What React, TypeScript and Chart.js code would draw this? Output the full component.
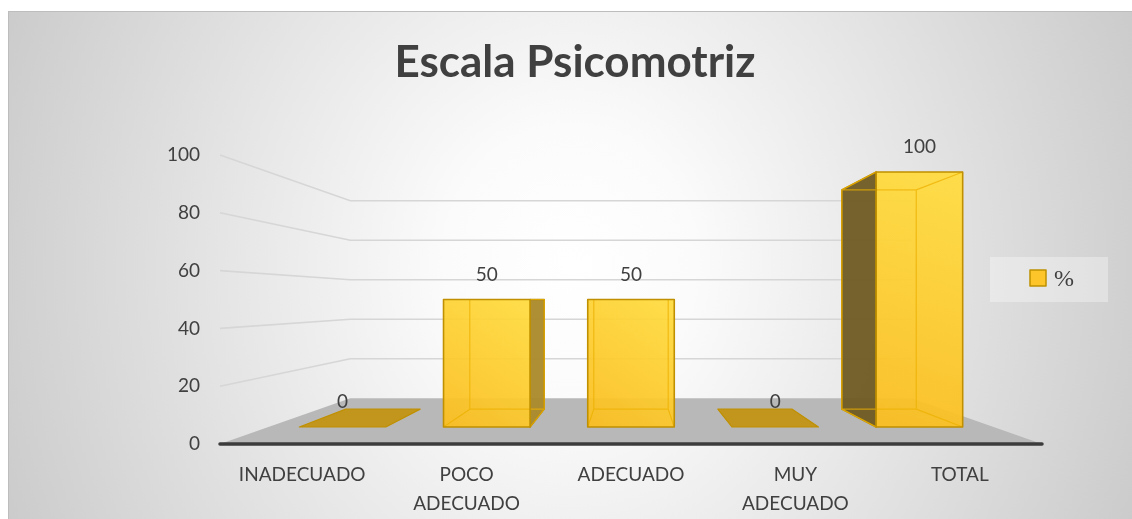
import React, { useEffect, useRef } from 'react';
import { Chart, registerables } from 'chart.js';

Chart.register(...registerables);

// ---- data ----
const TITLE = 'Escala Psicomotriz';
const SERIES_LABEL = '%';
const CATEGORIES: (string | string[])[] = [
  'INADECUADO',
  ['POCO', 'ADECUADO'],
  'ADECUADO',
  ['MUY', 'ADECUADO'],
  'TOTAL',
];
const VALUES = [0, 50, 50, 0, 100];
const Y_MIN = 0;
const Y_MAX = 100;
const Y_STEP = 20;

// ---- perspective style constants ----
const WALL_DEPTH = 0.683; // back wall relative to floor front (about vanishing point)
const BAR_DEPTH = 0.86; // bar back face relative to its front face
const FONT = 'Lato, "Noto Sans", sans-serif';
const TEXT_COLOR = '#404040';

type Pt = [number, number];

const perspectivePlugin = {
  id: 'perspective3d',
  beforeDraw(chart: any) {
    const { ctx, width, height } = chart;
    ctx.save();
    ctx.strokeStyle = '#bdbdbd';
    ctx.lineWidth = 1;
    ctx.beginPath();
    ctx.moveTo(0, 0.5);
    ctx.lineTo(width, 0.5);
    ctx.moveTo(0.5, 0);
    ctx.lineTo(0.5, height);
    ctx.stroke();
    ctx.restore();
  },
  beforeDatasetsDraw(chart: any) {
    const { ctx, chartArea: a, scales } = chart;
    const y = scales.y;
    const vx = (a.left + a.right) / 2;
    const vy = (a.top + a.bottom) / 2;
    const P = (px: number, py: number, k: number): Pt => [vx + (px - vx) * k, vy + (py - vy) * k];
    ctx.save();
    // floor
    const bl = P(a.left, a.bottom, WALL_DEPTH);
    const br = P(a.right, a.bottom, WALL_DEPTH);
    ctx.beginPath();
    ctx.moveTo(a.left, a.bottom);
    ctx.lineTo(a.right, a.bottom);
    ctx.lineTo(br[0], br[1]);
    ctx.lineTo(bl[0], bl[1]);
    ctx.closePath();
    ctx.fillStyle = '#b8b8b8';
    ctx.fill();
    // gridlines (side + back wall)
    ctx.strokeStyle = '#d6d6d6';
    ctx.lineWidth = 1.6;
    for (const t of y.ticks) {
      if (t.value === Y_MIN) continue;
      const py = y.getPixelForValue(t.value);
      const w = P(a.left, py, WALL_DEPTH);
      ctx.beginPath();
      ctx.moveTo(a.left, py);
      ctx.lineTo(w[0], w[1]);
      ctx.lineTo(br[0], w[1]);
      ctx.stroke();
    }
    // front floor edge
    ctx.strokeStyle = '#3c3c3c';
    ctx.lineWidth = 3.5;
    ctx.lineCap = 'round';
    ctx.beginPath();
    ctx.moveTo(a.left, a.bottom);
    ctx.lineTo(a.right, a.bottom);
    ctx.stroke();
    ctx.restore();
  },
  afterDatasetsDraw(chart: any) {
    const { ctx, chartArea: a } = chart;
    const vx = (a.left + a.right) / 2;
    const vy = (a.top + a.bottom) / 2;
    const P = (px: number, py: number, k: number): Pt => [vx + (px - vx) * k, vy + (py - vy) * k];
    const meta = chart.getDatasetMeta(0);
    const ds = chart.data.datasets[0];
    const poly = (pts: Pt[]) => {
      ctx.beginPath();
      ctx.moveTo(pts[0][0], pts[0][1]);
      for (let i = 1; i < pts.length; i++) ctx.lineTo(pts[i][0], pts[i][1]);
      ctx.closePath();
    };
    ctx.save();
    meta.data.forEach((el: any, i: number) => {
      const { x, y: top, base, width } = el.getProps(['x', 'y', 'base', 'width'], true);
      const L = x - width / 2;
      const R = x + width / 2;
      const T = Math.min(top, base);
      const B = Math.max(top, base);
      const bLT = P(L, T, BAR_DEPTH);
      const bRT = P(R, T, BAR_DEPTH);
      const bLB = P(L, B, BAR_DEPTH);
      const bRB = P(R, B, BAR_DEPTH);
      ctx.lineJoin = 'round';
      if (B - T < 0.5) {
        // flat bar (zero value): top face only
        poly([[L, B], [R, B], bRB, bLB]);
        ctx.fillStyle = '#c2951c';
        ctx.fill();
        ctx.strokeStyle = '#c09000';
        ctx.lineWidth = 1.2;
        ctx.stroke();
      } else {
        // side faces
        if (L > vx + 1) {
          poly([[L, T], bLT, bLB, [L, B]]);
          ctx.fillStyle = 'rgba(112,92,36,0.96)';
          ctx.fill();
          ctx.strokeStyle = '#b08400';
          ctx.lineWidth = 1.5;
          ctx.stroke();
        } else if (R < vx - 1) {
          poly([[R, T], bRT, bRB, [R, B]]);
          ctx.fillStyle = 'rgba(172,138,44,0.96)';
          ctx.fill();
          ctx.strokeStyle = '#b08400';
          ctx.lineWidth = 1.5;
          ctx.stroke();
        }
        // top face if below eye level
        if (T > vy + 1) {
          poly([[L, T], [R, T], bRT, bLT]);
          ctx.fillStyle = '#f2bd1e';
          ctx.fill();
        }
        // front face
        const g = ctx.createLinearGradient(R, T, L, B);
        g.addColorStop(0, 'rgba(255,220,64,0.94)');
        g.addColorStop(1, 'rgba(250,190,32,0.94)');
        ctx.fillStyle = g;
        ctx.fillRect(L, T, R - L, B - T);
        // inner (back) edges seen through
        ctx.strokeStyle = 'rgba(236,176,0,0.75)';
        ctx.lineWidth = 1.2;
        ctx.beginPath();
        ctx.moveTo(bLT[0], bLT[1]);
        ctx.lineTo(bRT[0], bRT[1]);
        ctx.lineTo(bRB[0], bRB[1]);
        ctx.lineTo(bLB[0], bLB[1]);
        ctx.closePath();
        ctx.moveTo(L, T); ctx.lineTo(bLT[0], bLT[1]);
        ctx.moveTo(R, T); ctx.lineTo(bRT[0], bRT[1]);
        ctx.moveTo(L, B); ctx.lineTo(bLB[0], bLB[1]);
        ctx.moveTo(R, B); ctx.lineTo(bRB[0], bRB[1]);
        ctx.stroke();
        ctx.strokeStyle = '#c09000';
        ctx.lineWidth = 1.6;
        ctx.strokeRect(L, T, R - L, B - T);
      }
      // data label
      ctx.fillStyle = TEXT_COLOR;
      ctx.font = `19px ${FONT}`;
      ctx.textAlign = 'center';
      ctx.textBaseline = 'middle';
      ctx.fillText(String(VALUES[i]), x, T - 25);
    });

    // legend
    const lx = chart.width - 142;
    const ly = 246;
    ctx.fillStyle = 'rgba(255,255,255,0.33)';
    ctx.fillRect(lx, ly, 118, 45);
    ctx.fillStyle = '#fdc52a';
    ctx.fillRect(lx + 40, ly + 13, 16, 16);
    ctx.strokeStyle = '#bf9000';
    ctx.lineWidth = 1.5;
    ctx.strokeRect(lx + 40, ly + 13, 16, 16);
    ctx.fillStyle = TEXT_COLOR;
    ctx.font = '24px "Liberation Serif", "DejaVu Serif", serif';
    ctx.textAlign = 'left';
    ctx.textBaseline = 'middle';
    ctx.fillText(ds.label, lx + 64, ly + 23);
    ctx.restore();
  },
};

export default function App() {
  const ref = useRef<HTMLCanvasElement | null>(null);
  useEffect(() => {
    if (!ref.current) return;
    const chart = new Chart(ref.current, {
      type: 'bar',
      data: {
        labels: CATEGORIES as any,
        datasets: [
          {
            label: SERIES_LABEL,
            data: VALUES.map((v, i) => ({ x: i, y: v })) as any,
            xAxisID: 'xBar',
            yAxisID: 'yBar',
            backgroundColor: 'rgba(0,0,0,0)',
            borderWidth: 0,
            barPercentage: 0.6,
            categoryPercentage: 1,
          },
        ],
      },
      options: {
        animation: false,
        responsive: true,
        maintainAspectRatio: false,
        layout: { padding: { left: 10, right: 0, top: 0, bottom: 0 } },
        plugins: {
          legend: { display: false },
          tooltip: { enabled: false },
          title: {
            display: true,
            text: TITLE,
            color: TEXT_COLOR,
            font: { family: FONT, size: 44, weight: 'bold' },
            padding: { top: 25, bottom: 66.2 },
          },
        },
        scales: {
          x: {
            type: 'category',
            position: 'bottom',
            grid: { display: false, drawTicks: false },
            border: { display: false },
            ticks: {
              color: TEXT_COLOR,
              font: { family: FONT, size: 19, lineHeight: 1.5 },
              padding: 17,
              maxRotation: 0,
              autoSkip: false,
            },
            afterFit: (s: any) => { s.height = 75; },
          },
          y: {
            type: 'linear',
            position: 'left',
            min: Y_MIN,
            max: Y_MAX,
            grid: { display: false, drawTicks: false },
            border: { display: false },
            ticks: {
              stepSize: Y_STEP,
              color: TEXT_COLOR,
              font: { family: FONT, size: 19 },
              padding: 20,
            },
            afterFit: (s: any) => { s.width = 202; },
          },
          xBar: {
            type: 'linear',
            display: false,
            offset: false,
            grid: { offset: false },
            min: -0.85,
            max: 4.85,
            afterBuildTicks: (s: any) => {
              s.ticks = VALUES.map((_, i) => ({ value: i }));
            },
          },
          yBar: {
            type: 'linear',
            position: 'right',
            min: -6.667,
            max: 106.667,
            grid: { display: false, drawTicks: false },
            border: { display: false },
            ticks: { display: false },
            afterFit: (s: any) => { s.width = 90; },
          },
        },
      } as any,
      plugins: [perspectivePlugin],
    });
    return () => chart.destroy();
  }, []);

  return (
    <div
      style={{
        position: 'absolute',
        left: 8,
        top: 11,
        width: 1124,
        height: 508,
        background:
          'radial-gradient(ellipse 62% 150% at 50% 50%, #ffffff 0%, #fbfbfb 18%, #c6c6c6 95%)',
      }}
    >
      <canvas ref={ref} />
    </div>
  );
}
